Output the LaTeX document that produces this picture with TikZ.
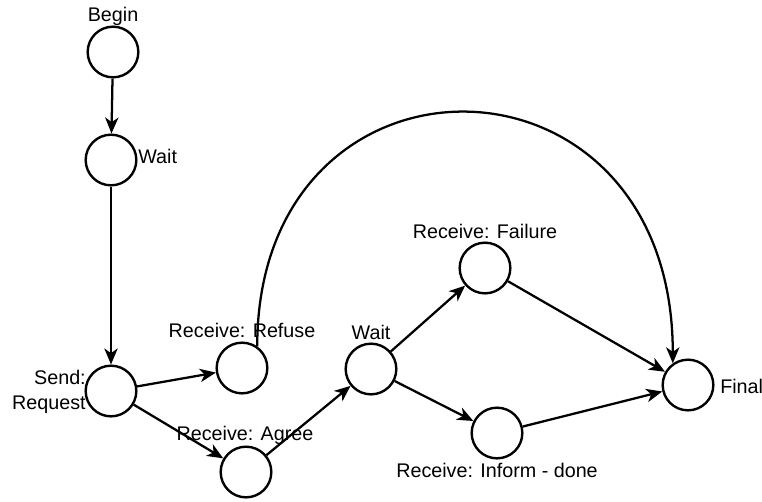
\documentclass[tikz,border=0pt]{standalone}
\usepackage{fontspec}
\setmainfont{Liberation Sans}
\usetikzlibrary{arrows.meta}

\begin{document}
\begin{tikzpicture}[x=0.75pt, y=-0.75pt,
 every node/.style={font=\fontsize{14.8}{18.5}\selectfont},
state/.style={circle, draw=black, line width=1.8pt, inner sep=0pt, minimum size=38pt},
lbl/.style={inner sep=0pt, align=center},
arrow/.style={-{Stealth[length=12pt, width=10pt, inset=3.5pt]}, line width=1.7pt}]

\useasboundingbox (0, 0) rectangle (762, 501);

\node[state] (begin) at (113, 52) {};
\node[state] (wait1) at (111, 160) {};
\node[state] (send) at (111, 391) {};
\node[state] (refuse) at (242, 368) {};
\node[state] (agree) at (246, 472) {};
\node[state] (wait2) at (371, 369) {};
\node[state] (failure) at (485, 268) {};
\node[state] (inform) at (497, 433) {};
\node[state] (final) at (688, 385) {};

\node[lbl] (lbegin) at (113, 16) {Begin};
\node[lbl, anchor=west] (lwait1) at (138, 156) {Wait};
\node[inner sep=0pt, anchor=east, align=right] (lsend) at (86, 392) {Send:\\Request};
\node[lbl] (lrefuse) at (242, 330) {Receive: Refuse};
\node[lbl] (lagree) at (245, 435) {Receive: Agree};
\node[lbl] (lwait2) at (371, 332) {Wait};
\node[lbl] (lfailure) at (485, 231) {Receive: Failure};
\node[lbl] (linform) at (497, 470) {Receive: Inform - done};
\node[lbl, anchor=west] (lfinal) at (720, 386) {Final};

\draw (begin) edge[arrow] (wait1);
\draw (wait1) edge[arrow] (send);
\draw (send) edge[arrow] (refuse);
\draw (send) edge[arrow] (agree);
\draw (agree) edge[arrow] (wait2);
\draw (wait2) edge[arrow] (failure);
\draw (wait2) edge[arrow] (inform);
\draw (failure) edge[arrow] (final);
\draw (inform) edge[arrow] (final);

\draw[arrow] (refuse.55) .. controls +(0, -315) and +(0, -330) .. (final.125);

\end{tikzpicture}
\end{document}
